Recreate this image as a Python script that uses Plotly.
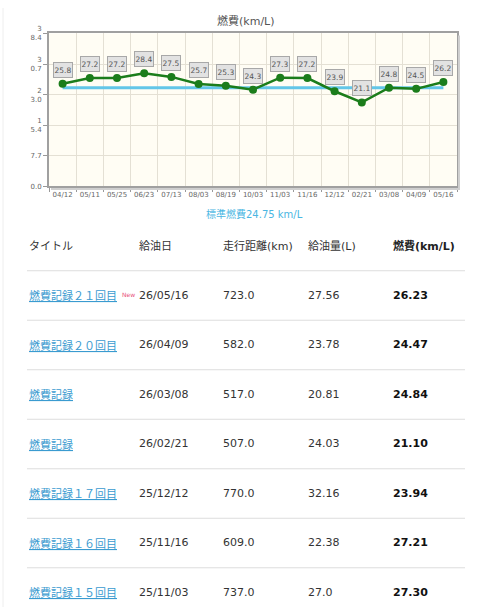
import plotly.graph_objects as go

# ---------------- data ----------------
dates = ["04/12", "05/11", "05/25", "06/23", "07/13", "08/03", "08/19", "10/03",
         "11/03", "11/16", "12/12", "02/21", "03/08", "04/09", "05/16"]
economy = [25.8, 27.2, 27.2, 28.4, 27.5, 25.7, 25.3, 24.3, 27.3, 27.2, 23.9, 21.1, 24.8, 24.5, 26.2]
standard = 24.75
y_tickvals = [0.0, 7.68, 15.36, 23.04, 30.72, 38.4]
y_ticktext = ["0.0", "7.7", "1<br>5.4", "2<br>3.0", "3<br>0.7", "3<br>8.4"]

headers = ["タイトル", "給油日", "走行距離(km)", "給油量(L)", "燃費(km/L)"]
titles = ["燃費記録２１回目", "燃費記録２０回目", "燃費記録", "燃費記録",
          "燃費記録１７回目", "燃費記録１６回目", "燃費記録１５回目"]
fill_dates = ["26/05/16", "26/04/09", "26/03/08", "26/02/21", "25/12/12", "25/11/16", "25/11/03"]
distance = ["723.0", "582.0", "517.0", "507.0", "770.0", "609.0", "737.0"]
fuel = ["27.56", "23.78", "20.81", "24.03", "32.16", "22.38", "27.0"]
econ_tbl = ["26.23", "24.47", "24.84", "21.10", "23.94", "27.21", "27.30"]

# ---------------- layout helpers ----------------
W, H = 480, 611
def px(x):
    return x / W
def py(y):
    return 1 - y / H

FONT = "DejaVu Sans, Noto Sans CJK JP, sans-serif"
JP = "Noto Sans CJK JP, DejaVu Sans, sans-serif"

fig = go.Figure()
fig.add_trace(go.Scatter(x=dates, y=[standard] * len(dates), mode="lines",
                         line=dict(color="#62c6e8", width=3), hoverinfo="skip"))
fig.add_trace(go.Scatter(x=dates, y=economy, mode="lines+markers",
                         line=dict(color="#1b7d1b", width=2.5),
                         marker=dict(color="#1b7d1b", size=8)))

annotations = []
for d, v in zip(dates, economy):
    annotations.append(dict(x=d, y=v, xref="x", yref="y", text=f"{v:.1f}", showarrow=False,
                            yshift=14, bgcolor="#e2e2e2", bordercolor="#a8a8a8", borderwidth=1,
                            width=18, height=14, borderpad=0,
                            font=dict(family=FONT, size=7.5, color="#555")))

annotations.append(dict(x=px(246), y=py(13), xref="paper", yref="paper", text="燃費(km/L)",
                        showarrow=False, xanchor="center", yanchor="middle",
                        font=dict(family=FONT, size=11, color="#555")))
annotations.append(dict(x=px(254), y=py(210), xref="paper", yref="paper",
                        text=f"標準燃費{standard} km/L", showarrow=False,
                        xanchor="center", yanchor="middle",
                        font=dict(family=FONT, size=10, color="#4ab6e2")))

col_x = [27, 137, 221, 306, 391]
for i, h in enumerate(headers):
    txt = f"<b>{h}</b>" if i == 4 else h
    annotations.append(dict(x=px(col_x[i]), y=py(243), xref="paper", yref="paper", text=txt,
                            showarrow=False, xanchor="left", yanchor="middle",
                            font=dict(family=FONT, size=11, color="#222" if i == 4 else "#333")))

shapes = []
row0, step = 293, 50.5
for r in range(len(titles)):
    yc = row0 + r * step
    annotations.append(dict(x=px(col_x[0]), y=py(yc), xref="paper", yref="paper",
                            text=f"<u>{titles[r]}</u>", showarrow=False, xanchor="left",
                            yanchor="middle", font=dict(family=JP, size=11, color="#3a9bd0")))
    for c, vals in zip(col_x[1:], [fill_dates, distance, fuel]):
        annotations.append(dict(x=px(c), y=py(yc), xref="paper", yref="paper", text=vals[r],
                                showarrow=False, xanchor="left", yanchor="middle",
                                font=dict(family=FONT, size=11, color="#333")))
    annotations.append(dict(x=px(col_x[4]), y=py(yc), xref="paper", yref="paper",
                            text=f"<b>{econ_tbl[r]}</b>", showarrow=False, xanchor="left",
                            yanchor="middle", font=dict(family=FONT, size=11, color="#111")))
    yl = 268 + r * step
    shapes.append(dict(type="line", xref="paper", yref="paper", x0=px(27), x1=px(465),
                       y0=py(yl), y1=py(yl), line=dict(color="#dddddd", width=1)))

annotations.append(dict(x=px(120), y=py(292), xref="paper", yref="paper", text="New",
                        showarrow=False, xanchor="left", yanchor="middle",
                        font=dict(family=FONT, size=6, color="#e8507a")))

# plot frame shadow and page edge
shapes.append(dict(type="line", xref="paper", yref="paper", x0=px(459), x1=px(459),
                   y0=py(28), y1=py(185), line=dict(color="#cfcfcf", width=2)))
shapes.append(dict(type="line", xref="paper", yref="paper", x0=px(51), x1=px(460),
                   y0=py(184.5), y1=py(184.5), line=dict(color="#cfcfcf", width=2)))
shapes.append(dict(type="line", xref="paper", yref="paper", x0=px(3), x1=px(3),
                   y0=0, y1=1, line=dict(color="#eeeeee", width=1)))

fig.update_layout(
    width=W, height=H, margin=dict(l=0, r=0, t=0, b=0),
    paper_bgcolor="white", plot_bgcolor="#fffdf4", showlegend=False,
    annotations=annotations, shapes=shapes,
    xaxis=dict(type="category", domain=[px(49), px(457)], range=[-0.5, 14.5],
               tickson="boundaries", ticks="outside", ticklen=4, tickcolor="#999",
               tickangle=0,
               showgrid=True, gridcolor="#e4e0d4", showline=True, linecolor="#a0a0a0",
               linewidth=2, mirror=True, tickfont=dict(family=FONT, size=7, color="#666"),
               fixedrange=True),
    yaxis=dict(domain=[py(182), py(26)], range=[0, 38.4], tickvals=y_tickvals,
               ticktext=y_ticktext, ticks="outside", ticklen=4, tickcolor="#999",
               showgrid=True, gridcolor="#e4e0d4", showline=True, linecolor="#a0a0a0",
               linewidth=2, mirror=True, zeroline=False,
               tickfont=dict(family=FONT, size=7, color="#666"), fixedrange=True),
)

fig.write_html("out.html", config={"displayModeBar": False},
               post_script="document.body.style.margin='0';document.body.style.overflow='hidden';")
